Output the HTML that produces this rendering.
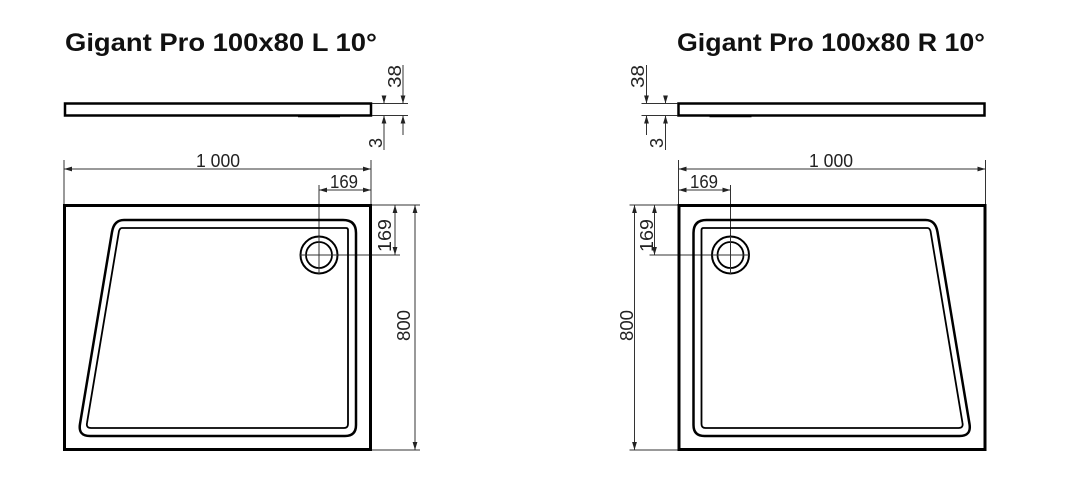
<!DOCTYPE html>
<html><head><style>
html,body{margin:0;padding:0;background:#fff;width:1090px;height:486px;overflow:hidden}
svg{display:block}
.t{font-family:"Liberation Sans",Arial,sans-serif;font-weight:bold;font-size:25px;fill:#111}
.d{font-family:"Liberation Sans",Arial,sans-serif;font-size:18px;fill:#222}
</style></head><body>
<svg width="1090" height="486" viewBox="0 0 1090 486">
<defs>
<marker id="a" viewBox="0 0 10 10" refX="10" refY="5" markerWidth="8" markerHeight="8" orient="auto-start-reverse" markerUnits="userSpaceOnUse"><path d="M0,2 L10,5 L0,8 z" fill="#222"/></marker>
<g id="g">
<rect x="65" y="103.5" width="306" height="12" fill="none" stroke="#000" stroke-width="2.5"/>
<line x1="298" y1="116" x2="340" y2="116" stroke="#000" stroke-width="2.5"/>
<g stroke="#333" stroke-width="1" fill="none">
<line x1="372" y1="103.5" x2="408" y2="103.5"/>
<line x1="372" y1="115.5" x2="408" y2="115.5"/>
<line x1="403" y1="65" x2="403" y2="103.5" marker-end="url(#a)"/>
<line x1="403" y1="135" x2="403" y2="115.5" marker-end="url(#a)"/>
<line x1="384" y1="96" x2="384" y2="103.5" marker-end="url(#a)"/>
<line x1="384" y1="150" x2="384" y2="115.5" marker-end="url(#a)"/>
<line x1="64" y1="160" x2="64" y2="205"/>
<line x1="371" y1="160" x2="371" y2="205"/>
<line x1="64" y1="169" x2="371" y2="169" marker-start="url(#a)" marker-end="url(#a)"/>
<line x1="319" y1="185" x2="319" y2="255"/>
<line x1="319" y1="190" x2="371" y2="190" marker-start="url(#a)" marker-end="url(#a)"/>
<line x1="319" y1="255" x2="400" y2="255"/>
<line x1="371" y1="205" x2="420" y2="205"/>
<line x1="371" y1="450" x2="420" y2="450"/>
<line x1="395" y1="205" x2="395" y2="255" marker-start="url(#a)" marker-end="url(#a)"/>
<line x1="415" y1="205" x2="415" y2="450" marker-start="url(#a)" marker-end="url(#a)"/>
</g>
<rect x="64.5" y="205.5" width="306" height="244" fill="none" stroke="#000" stroke-width="3"/>
<path d="M124,220 L343,220 Q356,220 356,233 L356,425 Q356,436 345,436 L90,436 Q78,436 80,424 L112,232 Q114,220 124,220 Z" fill="none" stroke="#000" stroke-width="2.5"/>
<path d="M122,228 L346,228 Q348,228 348,230 L348,424 Q348,428 344,428 L91,428 Q86,428 87,423 L119,231 Q120,228 122,228 Z" fill="none" stroke="#000" stroke-width="1.8"/>
<circle cx="319" cy="255" r="18.5" fill="#fff" stroke="#000" stroke-width="2"/>
<circle cx="319" cy="255" r="13" fill="none" stroke="#000" stroke-width="1.8"/>
<line x1="300" y1="255" x2="338" y2="255" stroke="#333" stroke-width="1"/>
<line x1="319" y1="236" x2="319" y2="274" stroke="#333" stroke-width="1"/>
</g>
</defs>
<use href="#g"/>
<use href="#g" transform="translate(1049.5,0) scale(-1,1)"/>
<text class="t" x="65" y="51" textLength="312" lengthAdjust="spacingAndGlyphs">Gigant Pro 100x80 L 10°</text>
<text class="t" x="677" y="51" textLength="308" lengthAdjust="spacingAndGlyphs">Gigant Pro 100x80 R 10°</text>
<g class="d">
<text x="196" y="167" textLength="44" lengthAdjust="spacingAndGlyphs">1 000</text>
<text x="330" y="188" textLength="28" lengthAdjust="spacingAndGlyphs">169</text>
<text transform="translate(391,252) rotate(-90)" textLength="33" lengthAdjust="spacingAndGlyphs">169</text>
<text transform="translate(410,341) rotate(-90)" textLength="31" lengthAdjust="spacingAndGlyphs">800</text>
<text transform="translate(401,88) rotate(-90)" textLength="23" lengthAdjust="spacingAndGlyphs">38</text>
<text transform="translate(382,148) rotate(-90)">3</text>
<text x="809" y="167" textLength="44" lengthAdjust="spacingAndGlyphs">1 000</text>
<text x="690" y="188" textLength="28" lengthAdjust="spacingAndGlyphs">169</text>
<text transform="translate(653,252) rotate(-90)" textLength="33" lengthAdjust="spacingAndGlyphs">169</text>
<text transform="translate(633,341) rotate(-90)" textLength="31" lengthAdjust="spacingAndGlyphs">800</text>
<text transform="translate(644,88) rotate(-90)" textLength="23" lengthAdjust="spacingAndGlyphs">38</text>
<text transform="translate(663,148) rotate(-90)">3</text>
</g>
</svg>
</body></html>
